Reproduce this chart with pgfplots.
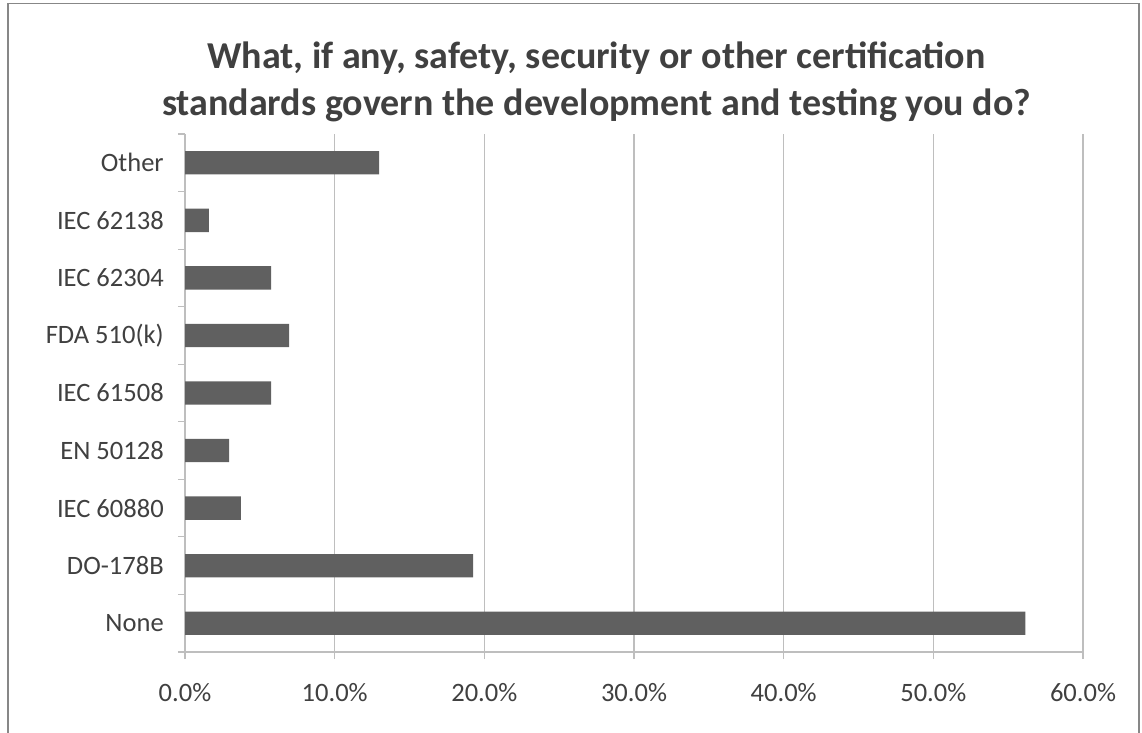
\documentclass[border=0pt]{standalone}
\usepackage{pgfplots}
\pgfplotsset{compat=1.18}
\usepackage{fontspec}
\setmainfont{Carlito}
\definecolor{barcol}{HTML}{606060}
\definecolor{gridcol}{HTML}{BEBEBE}
\definecolor{txtcol}{HTML}{404040}
\definecolor{framecol}{HTML}{878787}
\begin{document}
\begin{tikzpicture}
\useasboundingbox (0,0) rectangle (856.5pt,549pt);
\draw[framecol, line width=0.8pt] (6pt,-3pt) -- (6pt,546.5pt) -- (854.25pt,546.5pt) -- (854.25pt,-3pt);
\node[anchor=base, inner sep=0pt, text=txtcol, font=\fontsize{28.5}{34}\selectfont\bfseries] at (447.4pt,497.5pt) {What, if any, safety, security or other certification};
\node[anchor=base, inner sep=0pt, text=txtcol, font=\fontsize{28.5}{34}\selectfont\bfseries] at (447.4pt,462.5pt) {standards govern the development and testing you do?};
\begin{axis}[
  at={(138.75pt,60pt)}, anchor=south west,
  scale only axis, width=673.5pt, height=388.5pt,
  xbar, bar width=17.5pt,
  xmin=0, xmax=60, ymin=-0.5, ymax=8.5,
  axis x line*=bottom, axis y line*=left,
  axis line style={-, draw=gridcol, line width=0.8pt},
  xtick={0,10,20,30,40,50,60},
  xticklabels={0.0\%,10.0\%,20.0\%,30.0\%,40.0\%,50.0\%,60.0\%},
  xmajorgrids, grid style={gridcol, line width=0.8pt},
  tick align=outside,
  xtick style={draw=gridcol, line width=0.8pt},
  x tick label style={font=\fontsize{19.9}{24}\selectfont, text=txtcol, inner sep=0pt, anchor=base, yshift=-32pt},
  ytick={0,1,2,3,4,5,6,7,8},
  yticklabels={None,DO-178B,IEC 60880,EN 50128,IEC 61508,FDA 510(k),IEC 62304,IEC 62138,Other},
  ytick style={draw=none},
  y tick label style={font=\fontsize{19.9}{24}\selectfont, text=txtcol, inner sep=0pt, anchor=east, xshift=-10.5pt},
  extra y ticks={-0.5,0.5,1.5,2.5,3.5,4.5,5.5,6.5,7.5,8.5},
  extra y tick labels={},
  extra y tick style={ytick style={draw=gridcol, line width=0.8pt}, major tick length=5.25pt, tick align=outside},
  major tick length=5.25pt,
]
\addplot[fill=barcol, draw=none] coordinates {
 (56.15,0) (19.25,1) (3.74,2) (2.94,3) (5.75,4) (6.95,5) (5.75,6) (1.6,7) (12.97,8)
};
\end{axis}
\end{tikzpicture}
\end{document}
